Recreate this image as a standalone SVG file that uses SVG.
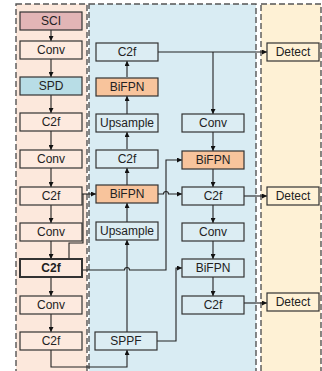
<svg xmlns="http://www.w3.org/2000/svg" width="322" height="371" viewBox="0 0 322 371">
<defs>
<style>
.panel{stroke:#555;stroke-width:1.4;stroke-dasharray:6,3}
.box{stroke:#333;stroke-width:1.2}
.lc{fill:#fdeadf}
.mc{fill:#dcedf3}
.dt{fill:#fff2d6}
.sci{fill:#e2b5b6}
.spd{fill:#b8dde6}
.bif{fill:#f8c49c}
.bold{stroke-width:2}
text{font-family:"Liberation Sans",Arial,sans-serif;font-size:12px;fill:#222;text-anchor:middle;dominant-baseline:central}
.bt{font-weight:bold}
.c{fill:none;stroke:#222;stroke-width:1.1}
</style>
<marker id="ah" viewBox="0 0 10 10" refX="10" refY="5" markerWidth="5" markerHeight="5" orient="auto" markerUnits="userSpaceOnUse">
<path d="M0,0 L10,5 L0,10 z" fill="#111"/>
</marker>
</defs>
<rect x="0" y="0" width="322" height="371" fill="#fff"/>
<g id="panels">
<rect class="panel" x="16" y="4" width="71" height="380" fill="#fce8dc"/>
<rect class="panel" x="89" y="4" width="167" height="380" fill="#d9ecf3"/>
<rect class="panel" x="261" y="4" width="60" height="380" fill="#fef1d5"/>
</g>
<g id="connectors">
<path class="c" d="M51,30 V41" marker-end="url(#ah)"/>
<path class="c" d="M51,59 V77" marker-end="url(#ah)"/>
<path class="c" d="M51,95 V113" marker-end="url(#ah)"/>
<path class="c" d="M51,131 V150" marker-end="url(#ah)"/>
<path class="c" d="M51,168 V187" marker-end="url(#ah)"/>
<path class="c" d="M51,205 V223" marker-end="url(#ah)"/>
<path class="c" d="M51,241 V259" marker-end="url(#ah)"/>
<path class="c" d="M51,277 V296" marker-end="url(#ah)"/>
<path class="c" d="M51,314 V332" marker-end="url(#ah)"/>
<path class="c" d="M51,350 V367 H127 V350" marker-end="url(#ah)"/>
<path class="c" d="M82,194 H96" marker-end="url(#ah)"/>
<path class="c" d="M83,194 V243 H69 V259"/>
<path class="c" d="M83,270 H124.5 A2.5,2.5 0 0 1 129.5,270 H166 V160 H182" marker-end="url(#ah)"/>
<path class="c" d="M127,332 V240" marker-end="url(#ah)"/>
<path class="c" d="M127,222 V203" marker-end="url(#ah)"/>
<path class="c" d="M127,185 V168" marker-end="url(#ah)"/>
<path class="c" d="M127,149 V132" marker-end="url(#ah)"/>
<path class="c" d="M127,114 V96" marker-end="url(#ah)"/>
<path class="c" d="M127,77 V61" marker-end="url(#ah)"/>
<path class="c" d="M158,52 H267" marker-end="url(#ah)"/>
<path class="c" d="M213,52 V114" marker-end="url(#ah)"/>
<path class="c" d="M158,194 H163.5 A2.5,2.5 0 0 1 168.5,194 H182" marker-end="url(#ah)"/>
<path class="c" d="M157,341 H176 V268 H182" marker-end="url(#ah)"/>
<path class="c" d="M213,132 V151" marker-end="url(#ah)"/>
<path class="c" d="M213,168 V187" marker-end="url(#ah)"/>
<path class="c" d="M213,205 V223" marker-end="url(#ah)"/>
<path class="c" d="M213,241 V259" marker-end="url(#ah)"/>
<path class="c" d="M213,277 V296" marker-end="url(#ah)"/>
<path class="c" d="M244,196 H267" marker-end="url(#ah)"/>
<path class="c" d="M244,303 H267" marker-end="url(#ah)"/>
</g>
<g id="n_sci"><rect class="box sci" x="20" y="12" width="62" height="18"/><text x="51" y="21">SCI</text></g>
<g id="n_conv1"><rect class="box lc" x="20" y="41" width="62" height="18"/><text x="51" y="50">Conv</text></g>
<g id="n_spd"><rect class="box spd" x="20" y="77" width="62" height="18"/><text x="51" y="86">SPD</text></g>
<g id="n_c2f1"><rect class="box lc" x="20" y="113" width="62" height="18"/><text x="51" y="122">C2f</text></g>
<g id="n_conv2"><rect class="box lc" x="20" y="150" width="62" height="18"/><text x="51" y="159">Conv</text></g>
<g id="n_c2f2"><rect class="box lc" x="20" y="187" width="62" height="18"/><text x="51" y="196">C2f</text></g>
<g id="n_conv3"><rect class="box lc" x="20" y="223" width="62" height="18"/><text x="51" y="232">Conv</text></g>
<g id="n_c2f3"><rect class="box lc bold" x="20" y="259" width="62" height="18"/><text class="bt" x="51" y="268">C2f</text></g>
<g id="n_conv4"><rect class="box lc" x="20" y="296" width="62" height="18"/><text x="51" y="305">Conv</text></g>
<g id="n_c2f4"><rect class="box lc" x="20" y="332" width="62" height="18"/><text x="51" y="341">C2f</text></g>
<g id="n_m_c2f1"><rect class="box mc" x="96" y="43" width="62" height="18"/><text x="127" y="52">C2f</text></g>
<g id="n_m_bif1"><rect class="box bif" x="96" y="78" width="62" height="18"/><text x="127" y="87">BiFPN</text></g>
<g id="n_m_up1"><rect class="box mc" x="96" y="114" width="62" height="18"/><text x="127" y="123">Upsample</text></g>
<g id="n_m_c2f2"><rect class="box mc" x="96" y="150" width="62" height="18"/><text x="127" y="159">C2f</text></g>
<g id="n_m_bif2"><rect class="box bif" x="96" y="185" width="62" height="18"/><text x="127" y="194">BiFPN</text></g>
<g id="n_m_up2"><rect class="box mc" x="96" y="222" width="62" height="18"/><text x="127" y="231">Upsample</text></g>
<g id="n_sppf"><rect class="box mc" x="95" y="332" width="62" height="18"/><text x="126" y="341">SPPF</text></g>
<g id="n_r_conv1"><rect class="box mc" x="182" y="114" width="62" height="18"/><text x="213" y="123">Conv</text></g>
<g id="n_r_bif1"><rect class="box bif" x="182" y="151" width="62" height="18"/><text x="213" y="160">BiFPN</text></g>
<g id="n_r_c2f1"><rect class="box mc" x="182" y="187" width="62" height="18"/><text x="213" y="196">C2f</text></g>
<g id="n_r_conv2"><rect class="box mc" x="182" y="223" width="62" height="18"/><text x="213" y="232">Conv</text></g>
<g id="n_r_bif2"><rect class="box mc" x="182" y="259" width="62" height="18"/><text x="213" y="268">BiFPN</text></g>
<g id="n_r_c2f2"><rect class="box mc" x="182" y="296" width="62" height="18"/><text x="213" y="305">C2f</text></g>
<g id="n_det1"><rect class="box dt" x="267" y="43" width="52" height="18"/><text x="293" y="52">Detect</text></g>
<g id="n_det2"><rect class="box dt" x="267" y="187" width="52" height="18"/><text x="293" y="196">Detect</text></g>
<g id="n_det3"><rect class="box dt" x="267" y="293" width="52" height="18"/><text x="293" y="302">Detect</text></g>
</svg>
